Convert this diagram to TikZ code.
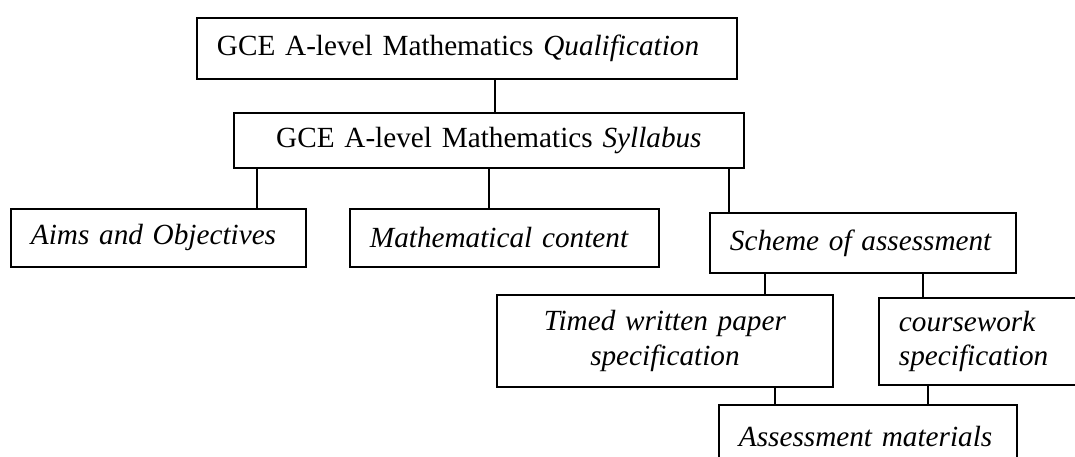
\documentclass[tikz,border=0pt]{standalone}
\usepackage{fontspec}
\setmainfont{Liberation Serif}

\begin{document}
\begin{tikzpicture}[
  x=0.4105pt, y=-0.4105pt,
  every node/.style={font=\fontsize{12}{14}\selectfont},
  box/.style={draw, line width=0.8pt, anchor=north west, inner xsep=8.2pt, inner ysep=0pt, align=left},
  link/.style={line width=0.6pt}
]
  \useasboundingbox (0,0) rectangle (1075,457);
  \clip (0,0) rectangle (1075,457);

  % boxes
  \node[box, text width=205.3pt, minimum height=25pt] (qual) at (196,17) {GCE A-level Mathematics \textit{Qualification}};
  \node[box, align=center, text width=192.9pt, minimum height=22.6pt] (syl) at (233,112) {GCE A-level Mathematics \textit{Syllabus}};
  \node[box, text width=104.7pt, minimum height=23.8pt] (aims) at (10,208) {\textit{Aims and Objectives}};
  \node[box, text width=110.4pt, minimum height=23.8pt] (cont) at (349,208) {\textit{Mathematical content}};
  \node[box, text width=109.2pt, minimum height=24.6pt] (scheme) at (709,212) {\textit{Scheme of assessment}};
  \node[box, align=center, text width=121.5pt, minimum height=37.8pt] (paper) at (496,294) {\textit{Timed written paper}\\\textit{specification}};
  \node[box, text width=70.6pt, minimum height=35.7pt] (cwork) at (878,297) {\textit{coursework}\\\textit{specification}};
  \node[box, text width=105.9pt, minimum height=25.5pt] (mat) at (718,404) {\textit{Assessment materials}};

  % where the joining lines run
  \coordinate (j1) at (495,0);
  \coordinate (j2) at (257,0);
  \coordinate (j3) at (489,0);
  \coordinate (j4) at (729,0);
  \coordinate (j5) at (765,0);
  \coordinate (j6) at (923,0);
  \coordinate (j7) at (775,0);
  \coordinate (j8) at (928,0);

  \draw[link] (j1 |- qual.south) -- (j1 |- syl.north);
  \draw[link] (j2 |- syl.south) -- (j2 |- aims.north);
  \draw[link] (j3 |- syl.south) -- (j3 |- cont.north);
  \draw[link] (j4 |- syl.south) -- (j4 |- scheme.north);
  \draw[link] (j5 |- scheme.south) -- (j5 |- paper.north);
  \draw[link] (j6 |- scheme.south) -- (j6 |- cwork.north);
  \draw[link] (j7 |- paper.south) -- (j7 |- mat.north);
  \draw[link] (j8 |- cwork.south) -- (j8 |- mat.north);
\end{tikzpicture}
\end{document}
